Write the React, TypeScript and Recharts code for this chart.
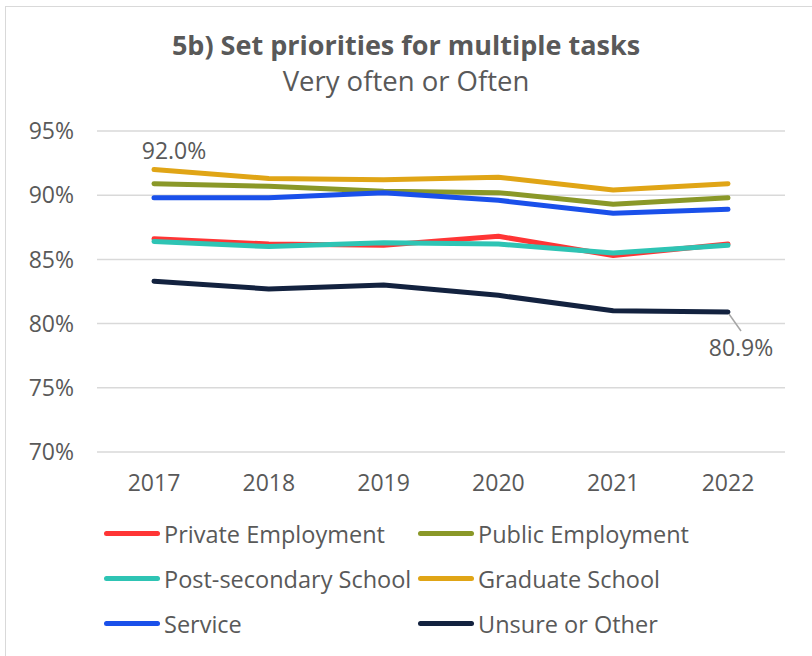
import { CartesianGrid, LabelList, Line, LineChart, XAxis, YAxis } from 'recharts'

const years = ['2017', '2018', '2019', '2020', '2021', '2022']
const privateEmployment = [86.6, 86.2, 86.1, 86.8, 85.3, 86.2]
const publicEmployment = [90.9, 90.7, 90.3, 90.2, 89.3, 89.8]
const postSecondary = [86.4, 86.0, 86.3, 86.2, 85.5, 86.1]
const graduateSchool = [92.0, 91.3, 91.2, 91.4, 90.4, 90.9]
const service = [89.8, 89.8, 90.2, 89.6, 88.6, 88.9]
const unsureOther = [83.3, 82.7, 83.0, 82.2, 81.0, 80.9]
const yTicks = [70, 75, 80, 85, 90, 95]

const data = years.map((year, i) => ({
  year,
  private: privateEmployment[i],
  public: publicEmployment[i],
  postSecondary: postSecondary[i],
  graduate: graduateSchool[i],
  service: service[i],
  unsure: unsureOther[i],
}))

const series = [
  { key: 'private', name: 'Private Employment', color: '#ff3535' },
  { key: 'public', name: 'Public Employment', color: '#8a9828' },
  { key: 'postSecondary', name: 'Post-secondary School', color: '#2ec4b4' },
  { key: 'graduate', name: 'Graduate School', color: '#e0a516' },
  { key: 'service', name: 'Service', color: '#1a50ea' },
  { key: 'unsure', name: 'Unsure or Other', color: '#13223f' },
]

const font = '"Open Sans", Lato, sans-serif'
const textColor = '#595959'

function TopLabel(props: any) {
  const { x, y, value, index } = props
  if (index !== 0) return null
  return (
    <text x={x + 20} y={y - 17} textAnchor="middle" dominantBaseline="middle" fill={textColor} fontSize={23} fontFamily={font}>
      {`${Number(value).toFixed(1)}%`}
    </text>
  )
}

function EndLabel(props: any) {
  const { x, y, value, index } = props
  if (index !== years.length - 1) return null
  return (
    <g>
      <line x1={x + 1} y1={y + 2} x2={x + 13} y2={y + 19} stroke="#a6a6a6" strokeWidth={1.5} />
      <text x={x + 13} y={y + 38} textAnchor="middle" dominantBaseline="middle" fill={textColor} fontSize={23} fontFamily={font}>
        {`${Number(value).toFixed(1)}%`}
      </text>
    </g>
  )
}

function LegendBlock() {
  return (
    <div style={{ position: 'absolute', left: 104, top: 515, display: 'grid', gridTemplateColumns: '314px 300px', rowGap: 8 }}>
      {series.map((s) => (
        <div key={s.key} style={{ display: 'flex', alignItems: 'center', height: 37 }}>
          <div style={{ width: 56, height: 5, borderRadius: 3, background: s.color, marginRight: 4 }} />
          <span style={{ fontFamily: font, fontSize: 23.5, color: textColor, whiteSpace: 'nowrap' }}>{s.name}</span>
        </div>
      ))}
    </div>
  )
}

export default function App() {
  return (
    <div style={{ position: 'absolute', left: 0, top: 0, width: 812, height: 656, overflow: 'hidden', background: '#fff' }}>
      <div style={{ position: 'absolute', left: 5, top: 6, width: 830, height: 680, border: '1.5px solid #d9d9d9' }} />
      <div style={{ position: 'absolute', left: 0, width: 812, top: 30, lineHeight: '30px', textAlign: 'center', fontFamily: font, fontWeight: 700, fontSize: 27, color: textColor }}>
        5b) Set priorities for multiple tasks
      </div>
      <div style={{ position: 'absolute', left: 0, width: 812, top: 66, lineHeight: '30px', textAlign: 'center', fontFamily: font, fontSize: 27.5, color: textColor }}>
        Very often or Often
      </div>
      <div style={{ position: 'absolute', left: 0, top: 0 }}>
        <LineChart width={812} height={656} data={data} margin={{ top: 131, right: 27, bottom: 144, left: 0 }}>
          <CartesianGrid vertical={false} stroke="#d9d9d9" strokeWidth={1.5} />
          <XAxis
            dataKey="year"
            axisLine={false}
            tickLine={false}
            tickMargin={17}
            padding={{ left: 57, right: 57 }}
            tick={{ fill: textColor, fontSize: 23, fontFamily: font }}
            height={60}
          />
          <YAxis
            domain={[70, 95]}
            ticks={yTicks}
            width={97}
            axisLine={false}
            tickLine={false}
            tickMargin={17}
            tickFormatter={(v) => `${v}%`}
            tick={{ fill: textColor, fontSize: 23, fontFamily: font }}
          />
          {series.map((s) => (
            <Line
              key={s.key}
              type="linear"
              dataKey={s.key}
              name={s.name}
              stroke={s.color}
              strokeWidth={5}
              strokeLinecap="round"
              strokeLinejoin="round"
              dot={false}
              activeDot={false}
              isAnimationActive={false}
            >
              {s.key === 'graduate' && <LabelList dataKey={s.key} content={TopLabel} />}
              {s.key === 'unsure' && <LabelList dataKey={s.key} content={EndLabel} />}
            </Line>
          ))}
        </LineChart>
      </div>
      <LegendBlock />
    </div>
  )
}
